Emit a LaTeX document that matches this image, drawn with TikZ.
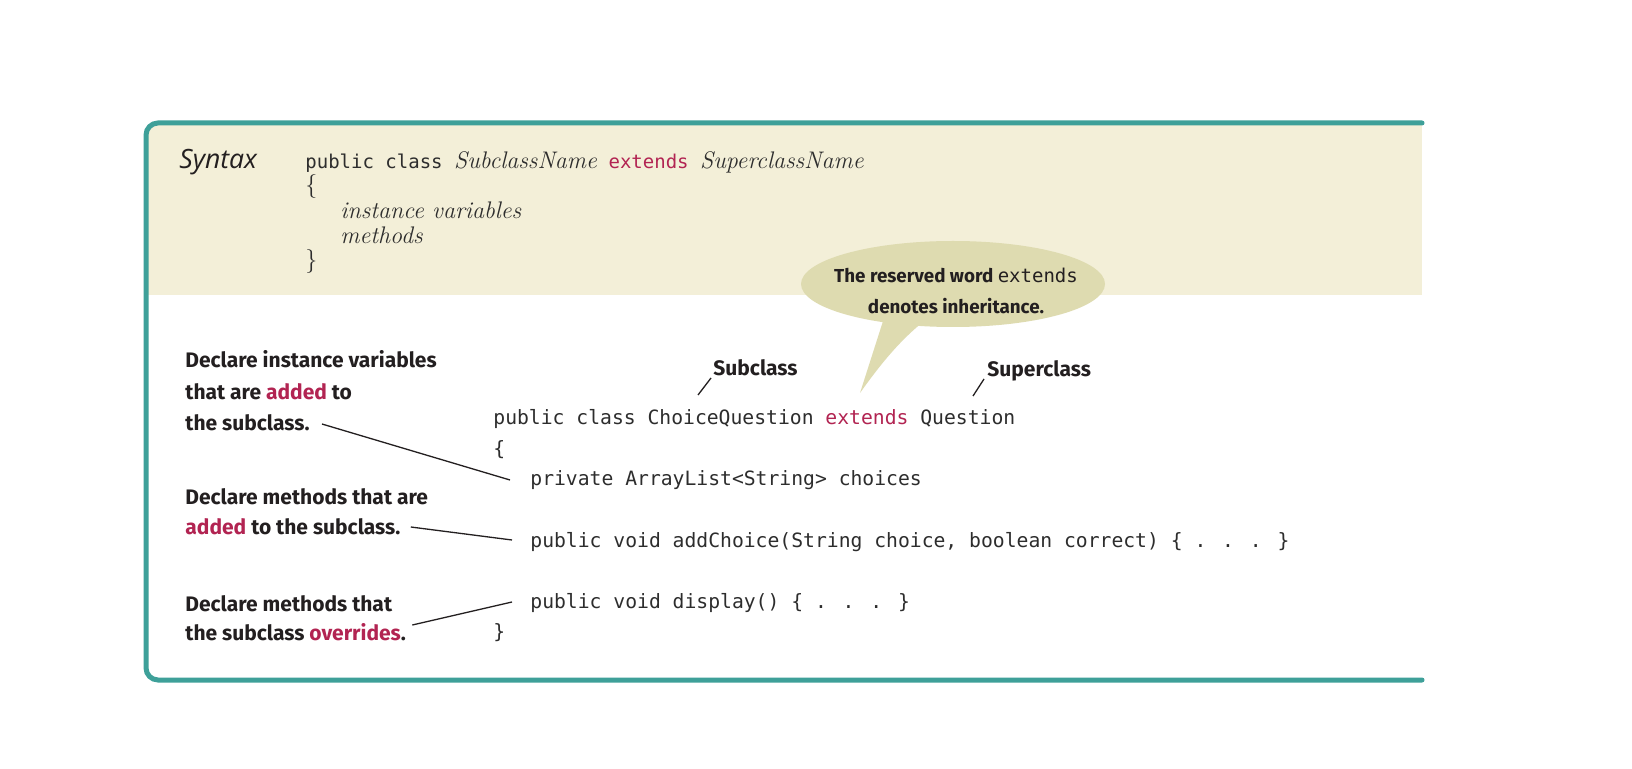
\documentclass[tikz,border=0pt]{standalone}
\usepackage{fontspec}
\usetikzlibrary{shapes.geometric,calc}
\newfontfamily\handfont{Fira Sans}
\newfontfamily\cmono{DejaVu Sans Mono}
\newfontfamily\synfont{Open Sans}
\definecolor{framec}{RGB}{62,160,153}
\definecolor{beige}{RGB}{243,239,216}
\definecolor{bub}{RGB}{222,219,176}
\definecolor{codered}{RGB}{178,36,82}
\definecolor{ink}{RGB}{35,31,32}
\definecolor{codegray}{RGB}{45,45,45}
\newcommand{\hl}[1]{\textcolor{codered}{#1}}
\tikzset{
  lab/.style={anchor=base west, inner sep=0pt, text=ink, font=\handfont\bfseries\fontsize{10.5}{12}\selectfont},
  bubtext/.style={anchor=base, inner sep=0pt, text=ink, font=\handfont\bfseries\fontsize{9.4}{11}\selectfont},
  codeline/.style={anchor=base west, inner sep=0pt, text=codegray, font=\cmono\fontsize{9.85}{12}\selectfont},
  hdr/.style={anchor=base west, inner sep=0pt, text=codegray, font=\fontsize{12}{14}\selectfont},
  conn/.style={draw=ink, line width=0.65pt},
}
\begin{document}
\begin{tikzpicture}[x=0.5pt,y=-0.5pt]
\useasboundingbox (0,0) rectangle (1632,769);
\fill[white] (0,0) rectangle (1632,769);
% frame and header band
\begin{scope}
\clip[rounded corners=6pt] (1440,123) -- (146,123) -- (146,680) -- (1440,680) -- cycle;
\fill[beige] (140,115) rectangle (1422,295);
\end{scope}
\draw[framec, line width=2.5pt, rounded corners=6pt, line cap=round] (1422,123) -- (146,123) -- (146,680) -- (1422,680);

% syntax header
\node[anchor=base west, inner sep=0pt, text=ink, font=\synfont\itshape\fontsize{13.3}{15}\selectfont] (syn) at (179,169) {Syntax};
\node[hdr] (h1) at (305,169) {{\cmono\fontsize{9.5}{12}\selectfont public class }\textit{SubclassName}{\cmono\fontsize{9.5}{12}\selectfont\ \hl{extends} }\textit{SuperclassName}};
\node[hdr] (h2) at (305,193) {\{};
\node[hdr] (h3) at (340,219) {\textit{instance variables}};
\node[hdr] (h4) at (340,244) {\textit{methods}};
\node[hdr] (h5) at (305,268) {\}};

% speech bubble
\node[ellipse, fill=bub, minimum width=152pt, minimum height=43pt, inner sep=0pt] (bubble) at (953,284) {};
\fill[bub] (884,318) -- (860,393) .. controls (882,362) and (902,338) .. (928,318) -- cycle;
\node[bubtext] (bt1) at (956,283) {The reserved word {\cmono\mdseries\fontsize{9.5}{11}\selectfont extends}};
\node[bubtext] (bt2) at (956,314) {denotes inheritance.};

% code
\node[codeline] (c1) at (493,425) {public class ChoiceQuestion \hl{extends} Question};
\node[codeline] (c2) at (493,456) {\{};
\node[codeline] (c3) at (530,486) {private ArrayList<String> choices};
\node[codeline] (c4) at (530,547) {public void addChoice(String choice, boolean correct) \{ . . . \}};
\node[codeline] (c5) at (530,608) {public void display() \{ . . . \}};
\node[codeline] (c6) at (493,638) {\}};

% subclass / superclass labels
\node[lab] (sub) at (713,376) {Subclass};
\node[lab] (super) at (987,377) {Superclass};
\coordinate (subtip) at (698,395);
\coordinate (supertip) at (973,396);
\draw[conn] (subtip) -- ([shift={(-2,2)}]sub.base west);
\draw[conn] (supertip) -- ([shift={(-3,2)}]super.base west);

% left annotations
\node[lab] (l1a) at (185,368) {Declare instance variables};
\node[lab] (l1b) at (185,400) {that are \hl{added} to};
\node[lab] (l1c) at (185,431) {the subclass.};
\node[lab] (l2a) at (185,505) {Declare methods that are};
\node[lab] (l2b) at (185,535) {\hl{added} to the subclass.};
\node[lab] (l3a) at (185,611) {Declare methods that};
\node[lab] (l3b) at (185,640) {the subclass \hl{overrides}.};

\draw[conn] ([shift={(12,-7)}]l1c.base east) -- ([shift={(-20,-6)}]c3.base west);
\draw[conn] ([shift={(10,-8)}]l2b.base east) -- ([shift={(-18,-7)}]c4.base west);
\draw[conn] ([shift={(6,-15)}]l3b.base east) -- ([shift={(-18,-6)}]c5.base west);
\end{tikzpicture}
\end{document}
